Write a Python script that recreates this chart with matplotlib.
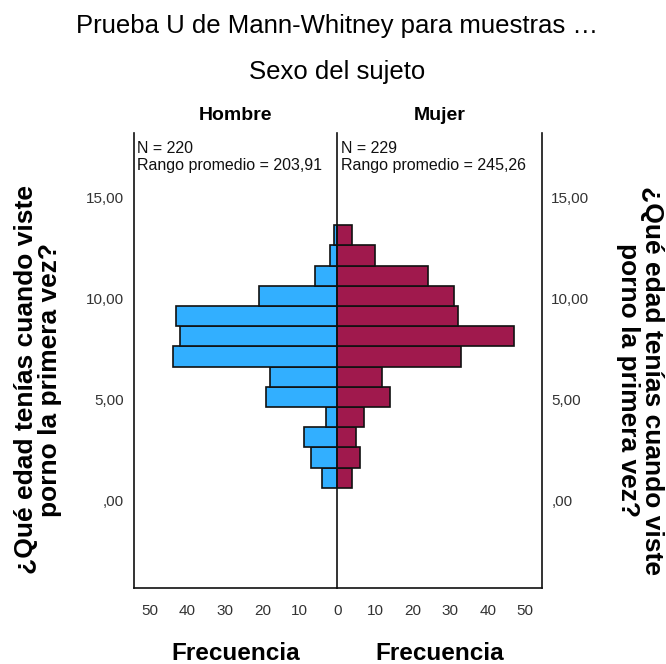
"""
Population-pyramid style histogram: Mann-Whitney U, age at first exposure by sex.
"""
import matplotlib
matplotlib.use("Agg")
import matplotlib.pyplot as plt
import numpy as np

plt.rcParams["font.family"] = ["Liberation Sans", "DejaVu Sans"]

# ─── Data ─────────────────────────────────────────────────────────────────────
ages = [1, 2, 3, 4, 5, 6, 7, 8, 9, 10, 11, 12, 13]
freq_hombre = [4, 7, 9, 3, 19, 18, 44, 42, 43, 21, 6, 2, 1]
freq_mujer = [4, 6, 5, 7, 14, 12, 33, 47, 32, 31, 24, 10, 4]

groups = ["Hombre", "Mujer"]
n_labels = ["N = 220", "N = 229"]
rank_labels = ["Rango promedio = 203,91", "Rango promedio = 245,26"]

y_ticks = [0, 5, 10, 15]
y_tick_labels = [",00", "5,00", "10,00", "15,00"]
x_ticks = [0, 10, 20, 30, 40, 50]

title = "Prueba U de Mann-Whitney para muestras \u2026"
subtitle = "Sexo del sujeto"
y_label = "¿Qué edad tenías cuando viste\nporno la primera vez?"
x_label = "Frecuencia"

# ─── Style ────────────────────────────────────────────────────────────────────
BLUE = "#32AFFF"
MAROON = "#A0194D"
LINE = "#111111"
TICK = "#333333"
XMAX = 54.3
YLIM = (-4.3, 18.2)
BIN_SHIFT = 0.15  # SPSS bins are slightly offset from integer ages

W, H = 666, 664
fig = plt.figure(figsize=(W / 100, H / 100), dpi=100)

ax_l = fig.add_axes([134 / W, 1 - 587.7 / H, 203.3 / W, 454.4 / H])
ax_r = fig.add_axes([337.3 / W, 1 - 587.7 / H, 204.2 / W, 454.4 / H])
ax_r.patch.set_alpha(0)

y = np.array(ages) + BIN_SHIFT
ax_l.barh(y, freq_hombre, height=1.0, color=BLUE, edgecolor=LINE, linewidth=1.2)
ax_r.barh(y, freq_mujer, height=1.0, color=MAROON, edgecolor=LINE, linewidth=1.2)

ax_l.set_xlim(XMAX, 0)
ax_r.set_xlim(0, XMAX)

for ax in (ax_l, ax_r):
    ax.set_ylim(*YLIM)
    ax.spines["top"].set_visible(False)
    for s in ax.spines.values():
        s.set_color(LINE)
        s.set_linewidth(1.2)
    ax.tick_params(length=0, labelsize=11, colors=TICK)

# centre line drawn once, by the right panel
ax_l.spines["right"].set_visible(False)
ax_r.spines["left"].set_visible(True)

ax_l.set_xticks(x_ticks)
ax_r.set_xticks(x_ticks[1:])
ax_l.tick_params(axis="x", pad=12)
ax_r.tick_params(axis="x", pad=12)

ax_l.set_yticks(y_ticks)
ax_l.set_yticklabels(y_tick_labels)
ax_l.tick_params(axis="y", pad=7)
ax_r.set_yticks(y_ticks)
ax_r.set_yticklabels(y_tick_labels)
ax_r.yaxis.tick_right()
ax_r.tick_params(axis="y", pad=7)

for ax, n_txt, r_txt in zip((ax_l, ax_r), n_labels, rank_labels):
    ax.text(0.016, 0.967, n_txt, transform=ax.transAxes, fontsize=11.5,
            va="center", ha="left", color="#111111")
    ax.text(0.016, 0.930, r_txt, transform=ax.transAxes, fontsize=11.5,
            va="center", ha="left", color="#111111")

# Headers
fig.text(0.5066, 1 - 26 / H, title, ha="center", va="center", fontsize=18.5)
fig.text(0.5066, 1 - 72 / H, subtitle, ha="center", va="center", fontsize=18.5)
for ax, g in zip((ax_l, ax_r), groups):
    pos = ax.get_position()
    cx = (pos.x0 + pos.x1) / 2
    fig.text(cx, 1 - 116 / H, g, ha="center", va="center", fontsize=14, fontweight="bold")
    fig.text(cx, 1 - 653 / H, x_label, ha="center", va="center", fontsize=17.5,
             fontweight="bold")

# Y labels on both sides
yc = 1 - 380 / H
fig.text(38 / W, yc, y_label, ha="center", va="center", rotation=90, fontsize=19,
         fontweight="bold", linespacing=0.95, multialignment="center")
fig.text(640 / W, yc, y_label, ha="center", va="center", rotation=270, fontsize=19,
         fontweight="bold", linespacing=0.95, multialignment="center")

fig.savefig("out.png", dpi=100)
